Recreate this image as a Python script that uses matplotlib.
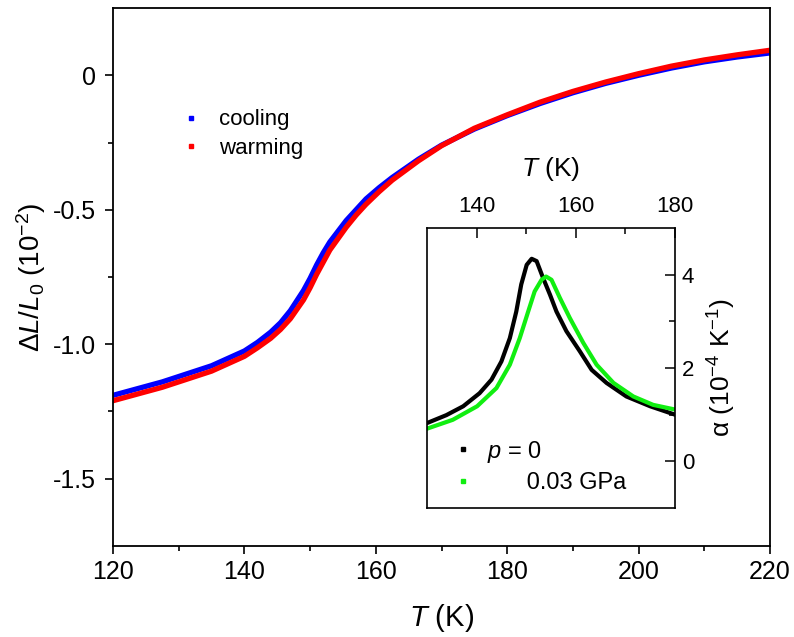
import matplotlib.pyplot as plt

plt.rcParams['font.family'] = ['Liberation Sans', 'DejaVu Sans']
plt.rcParams['mathtext.fontset'] = 'custom'
plt.rcParams['mathtext.it'] = 'Liberation Sans:italic'
plt.rcParams['mathtext.rm'] = 'Liberation Sans'

# main panel: dL/L0 (10^-2) vs T (K)
T_main = [120, 127.5, 135, 140, 142, 144, 145.5, 147, 149, 150, 151, 152, 153,
          155.5, 157, 158.5, 160.5, 162.5, 166.5, 170, 175, 180, 185, 190, 195,
          200, 205, 210, 215, 220]
cooling = [-1.19, -1.14, -1.08, -1.025, -0.993, -0.955, -0.92, -0.875, -0.80,
           -0.755, -0.705, -0.66, -0.62, -0.54, -0.50, -0.46, -0.418, -0.38,
           -0.312, -0.26, -0.20, -0.15, -0.105, -0.065, -0.03, 0.0, 0.027, 0.05,
           0.068, 0.083]
warming = [-1.21, -1.16, -1.10, -1.045, -1.013, -0.978, -0.945, -0.905, -0.835,
           -0.79, -0.74, -0.695, -0.65, -0.565, -0.52, -0.48, -0.433, -0.39,
           -0.318, -0.262, -0.197, -0.147, -0.10, -0.06, -0.025, 0.006, 0.034,
           0.057, 0.076, 0.093]

# inset: alpha (10^-4 K^-1) vs T (K)
T_p0 = [130, 133.9, 137.3, 140.6, 143.0, 145.0, 146.7, 148.0, 149.0, 150.1,
        151.1, 152.1, 153.4, 154.8, 156.1, 158.1, 160.8, 163.2, 166.2, 170.2,
        175.0, 180]
alpha_p0 = [0.82, 0.99, 1.18, 1.46, 1.75, 2.14, 2.64, 3.21, 3.79, 4.21, 4.34,
            4.29, 3.93, 3.57, 3.21, 2.79, 2.36, 1.96, 1.68, 1.39, 1.18, 1.0]
T_p003 = [130, 135.2, 140.1, 144.0, 146.7, 148.7, 150.4, 151.7, 153.1, 154.0,
          155.1, 156.8, 158.8, 161.5, 164.2, 167.6, 171.6, 175.6, 180]
alpha_p003 = [0.70, 0.89, 1.18, 1.57, 2.07, 2.64, 3.21, 3.64, 3.89, 3.96, 3.89,
              3.5, 3.07, 2.54, 2.07, 1.68, 1.39, 1.21, 1.11]

fig = plt.figure(figsize=(7.94, 6.37), dpi=100)
ax = fig.add_axes([0.1423, 0.1429, 0.8275, 0.8445])

ax.plot(T_main, cooling, color='#0000ff', lw=3.8)
ax.plot(T_main, warming, color='#ff0000', lw=3.8)
ax.plot([], [], 's', color='#0000ff', ms=3, label='cooling')
ax.plot([], [], 's', color='#ff0000', ms=3, label='warming')

ax.set_xlim(120, 220)
ax.set_ylim(-1.75, 0.25)
ax.set_xticks([120, 140, 160, 180, 200, 220])
ax.set_xticks(range(130, 220, 20), minor=True)
ax.set_yticks([-1.5, -1.0, -0.5, 0])
ax.set_yticklabels(['-1.5', '-1.0', '-0.5', '0'])
ax.set_yticks([-1.25, -0.75, -0.25], minor=True)
ax.tick_params(labelsize=18, direction='out', length=6, width=1.2, pad=6,
               top=False, right=False)
ax.tick_params(axis='x', pad=4)
ax.tick_params(which='minor', direction='out', length=3.5, width=1.2)
ax.set_xlabel('$T$ (K)', fontsize=21, labelpad=13)
ax.set_ylabel(r'$\Delta L/L_0$ (10$^{-2}$)', fontsize=20, labelpad=4)
for s in ax.spines.values():
    s.set_linewidth(1.3)
ax.legend(loc='upper left', bbox_to_anchor=(0.08, 0.828), frameon=False,
          fontsize=16, handletextpad=0.5, handlelength=1.5, labelspacing=0.35,
          borderaxespad=0)

ins = fig.add_axes([0.5378, 0.2025, 0.3123, 0.4396])
ins.plot(T_p0, alpha_p0, color='black', lw=3)
ins.plot(T_p003, alpha_p003, color='#11ee11', lw=3)
ins.plot([], [], 's', color='black', ms=2.5, label='$p$ = 0')
ins.plot([], [], 's', color='#11ee11', ms=2.5, label='      0.03 GPa')
ins.set_xlim(130, 180)
ins.set_ylim(-1, 5)
ins.set_xticks([140, 160, 180])
ins.set_xticks([150, 170], minor=True)
ins.set_yticks([0, 2, 4])
ins.set_yticks([1, 3], minor=True)
ins.xaxis.tick_top()
ins.xaxis.set_label_position('top')
ins.yaxis.tick_right()
ins.yaxis.set_label_position('right')
ins.tick_params(labelsize=16, direction='in', length=7, width=1.1, pad=5)
ins.tick_params(axis='x', pad=8)
ins.tick_params(which='minor', direction='in', length=4.5, width=1.1)
ins.set_xlabel('$T$ (K)', fontsize=19, labelpad=14)
ins.set_ylabel('α (10$^{-4}$ K$^{-1}$)', fontsize=19, labelpad=8)
for s in ins.spines.values():
    s.set_linewidth(1.2)
ins.legend(loc='lower left', bbox_to_anchor=(0.05, 0.0), frameon=False,
           fontsize=17, handletextpad=0.6, handlelength=0.8, labelspacing=0.3,
           borderaxespad=0.2)

fig.savefig('out.png', dpi=100)
